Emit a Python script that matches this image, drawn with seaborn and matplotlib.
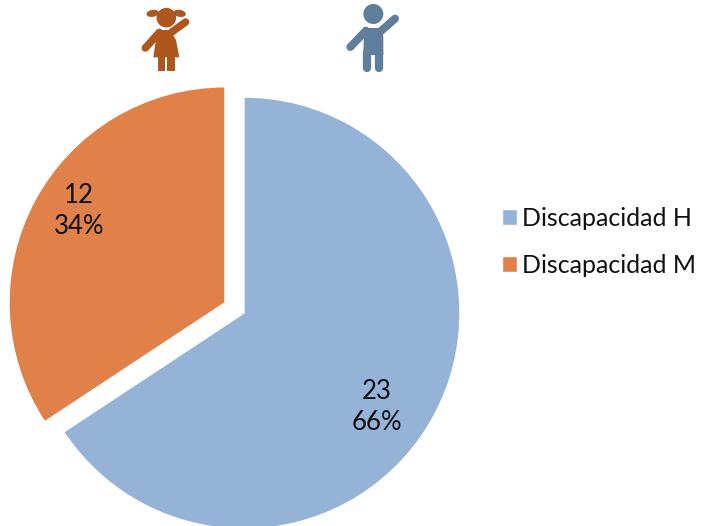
import matplotlib
matplotlib.use("Agg")
import matplotlib.pyplot as plt
from matplotlib.patches import Circle, Ellipse, Polygon
import seaborn as sns

categories = ["Discapacidad H", "Discapacidad M"]
values = [23, 12]
percents = ["66%", "34%"]
colors = ["#95B3D7", "#E0814A"]
explode_frac = [0, 0.1]
girl_c = "#AF561C"
boy_c = "#5F7F9C"

sns.set_theme(style="white")
plt.rcParams['font.family'] = ['Lato', 'DejaVu Sans']
W, H = 702, 526
R = 216
fig = plt.figure(figsize=(W / 100, H / 100), dpi=100)
ax = fig.add_axes([0, 0, 1, 1])

wedges, _ = ax.pie(values, colors=colors, explode=[e * R for e in explode_frac], startangle=90,
                   counterclock=False, center=(244, H - 313), radius=R, frame=True)
ax.set_xlim(0, W)
ax.set_ylim(0, H)
ax.set_aspect("equal")
ax.set_xticks([]); ax.set_yticks([])
for s in ax.spines.values():
    s.set_visible(False)

# data labels
label_pos = [(377, 407), (79, 211)]
for v, p, (x, y) in zip(values, percents, label_pos):
    ax.text(x, H - y, f"{v}\n{p}", ha="center", va="center", fontsize=18.5, color="#111111", linespacing=1.3)

# legend
ax.legend(wedges, categories, loc="upper left", bbox_to_anchor=(502 / W, 1 - 207 / H), frameon=False,
          fontsize=18, handlelength=0.6, handleheight=0.6, handletextpad=0.2, labelspacing=0.95,
          borderpad=0, borderaxespad=0, labelcolor="#111111")


def zx(x):
    return 120 + x / 3


def zy(y):
    return H - y / 3


def limb(x0, y0, x1, y1, c, px=7.5):
    ax.plot([zx(x0), zx(x1)], [zy(y0), zy(y1)], color=c, lw=px * 0.72, solid_capstyle="round", zorder=3)


def poly(pts, c):
    ax.add_patch(Polygon([(zx(x), zy(y)) for x, y in pts], closed=True, fc=c, ec="none", zorder=3))


# girl icon
ax.add_patch(Circle((zx(139), zy(53)), 9.8, fc=girl_c, ec="none", zorder=3))
ax.add_patch(Ellipse((zx(98), zy(40)), 12.5, 7, angle=10, fc=girl_c, ec="none", zorder=3))
ax.add_patch(Ellipse((zx(179), zy(40)), 12.5, 7, angle=-10, fc=girl_c, ec="none", zorder=3))
poly([(112, 90), (150, 90), (168, 120), (178, 172), (100, 172)], girl_c)
limb(118, 97, 76, 144, girl_c)
limb(150, 100, 197, 66, girl_c)
poly([(113, 170), (135, 170), (135, 212), (113, 212)], girl_c)
poly([(142, 170), (164, 170), (164, 212), (142, 212)], girl_c)

# boy icon
ax.add_patch(Circle((zx(760), zy(42)), 10, fc=boy_c, ec="none", zorder=3))
poly([(732, 84), (782, 84), (790, 110), (790, 165), (730, 165)], boy_c)
limb(738, 92, 691, 141, boy_c, px=8)
limb(775, 100, 825, 56, boy_c, px=8)
limb(742, 155, 742, 205, boy_c, px=8.3)
limb(778, 155, 778, 205, boy_c, px=8.3)

fig.savefig("out.png", dpi=100)
